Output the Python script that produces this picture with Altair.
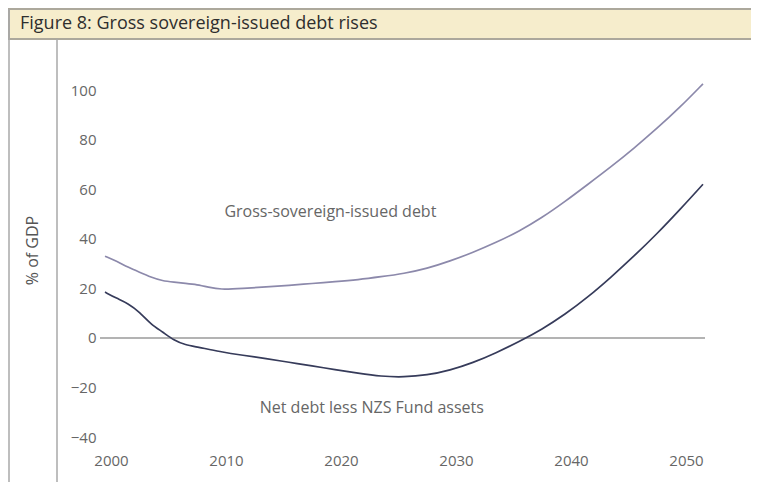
import altair as alt
import pandas as pd

# ---- data ----
years_gross = [2000, 2001, 2002, 2003, 2004, 2005, 2006, 2007, 2008, 2009, 2010,
               2012, 2014, 2016, 2018, 2020, 2022, 2024, 2026, 2028, 2030,
               2032, 2034, 2036, 2038, 2040, 2042, 2044, 2046, 2048, 2050, 2052]
gross = [33, 31, 28.5, 26.5, 24.5, 23, 22.5, 22, 21.5, 20.5, 19.5,
         20, 20.6, 21.2, 22, 22.7, 23.5, 24.7, 26, 28, 31,
         34.5, 38.5, 43, 48.5, 55, 62, 69, 76.5, 84.5, 93, 102.5]

years_net = [2000, 2001, 2002, 2003, 2004, 2005, 2006, 2007, 2008, 2010,
             2012, 2014, 2016, 2018, 2020, 2022, 2024, 2026, 2028, 2030,
             2032, 2034, 2036, 2038, 2040, 2042, 2044, 2046, 2048, 2050, 2052]
net = [18.5, 16, 14, 10.5, 5.5, 2.5, -1, -2.8, -3.6, -5.5,
       -7, -8.3, -9.8, -11.2, -12.8, -14.2, -15.5, -15.8, -15, -13,
       -10, -6, -1.5, 3.5, 9.5, 16.5, 24.5, 33, 42, 51.8, 62]

series_names = ["Gross-sovereign-issued debt", "Net debt less NZS Fund assets"]
series_colors = ["#8c89ab", "#363b5a"]

x_ticks = [2000, 2010, 2020, 2030, 2040, 2050]
y_ticks = [-40, -20, 0, 20, 40, 60, 80, 100]

label_years = [2019.6, 2023.2]
label_values = [50.8, -28.2]

title_text = "Figure 8: Gross sovereign-issued debt rises"
y_title = "% of GDP"

FONT = "Open Sans"

df = pd.concat([
    pd.DataFrame({"year": years_gross, "value": gross, "series": series_names[0]}),
    pd.DataFrame({"year": years_net, "value": net, "series": series_names[1]}),
])
labels_df = pd.DataFrame({"year": label_years, "value": label_values, "label": series_names})

x_scale = alt.Scale(domain=[1999.565, 2052.61], nice=False, zero=False)
y_scale = alt.Scale(domain=[-41.94, 106.05], nice=False, zero=False)

lines = alt.Chart(df).mark_line(strokeWidth=1.7, interpolate="basis").encode(
    x=alt.X("year:Q", scale=x_scale,
            axis=alt.Axis(values=x_ticks, format="d", title=None, grid=False,
                          domain=False, ticks=False, labelPadding=11, labelOffset=6,
                          labelFontSize=15, labelColor="#666", labelFont=FONT)),
    y=alt.Y("value:Q", scale=y_scale,
            axis=alt.Axis(values=y_ticks, title=y_title, grid=False, domain=False,
                          ticks=False, labelPadding=4, labelFontSize=15,
                          labelColor="#666", labelFont=FONT,
                          titleX=-68, titleY=175, titleAngle=270,
                          titleAlign="center", titleBaseline="middle",
                          titleFontSize=16, titleFontWeight="normal",
                          titleColor="#555", titleFont=FONT)),
    color=alt.Color("series:N", scale=alt.Scale(domain=series_names, range=series_colors),
                    legend=None),
)

zero_rule = alt.Chart(pd.DataFrame({"value": [0]})).mark_rule(color="#9a9a9a", strokeWidth=1.3).encode(
    y=alt.Y("value:Q", scale=y_scale),
    x=alt.value(0),
    x2=alt.value(605),
)

texts = alt.Chart(labels_df).mark_text(fontSize=16, color="#666", font=FONT,
                                       align="center", baseline="middle").encode(
    x=alt.X("year:Q", scale=x_scale),
    y=alt.Y("value:Q", scale=y_scale),
    text="label:N",
)

one = pd.DataFrame({"a": [0]})
title_bar = alt.Chart(one).mark_rect(fill="#f6edcc", stroke="#aca89c", strokeWidth=2).encode(
    x=alt.value(-91), x2=alt.value(652), y=alt.value(-66), y2=alt.value(-36),
)
title = alt.Chart(one).mark_text(align="left", baseline="middle", fontSize=18,
                                 color="#2e2e2e", font=FONT).encode(
    x=alt.value(-80), y=alt.value(-51), text=alt.value(title_text),
)
left_border = alt.Chart(one).mark_rule(color="#a8a8a8", strokeWidth=1.5).encode(
    x=alt.value(-91), y=alt.value(-66), y2=alt.value(410),
)
inner_line = alt.Chart(one).mark_rule(color="#a8a8a8", strokeWidth=1.5).encode(
    x=alt.value(-43), y=alt.value(-36), y2=alt.value(410),
)

chart = alt.layer(title_bar, title, left_border, inner_line, zero_rule, lines, texts).properties(
    width=610, height=367,
    autosize=alt.AutoSizeParams(type="none"),
    padding={"left": 92, "top": 67, "right": 41, "bottom": 40},
    background="white",
).configure_view(stroke=None)

chart.save("out.html", embed_options={"renderer": "svg", "actions": False})
